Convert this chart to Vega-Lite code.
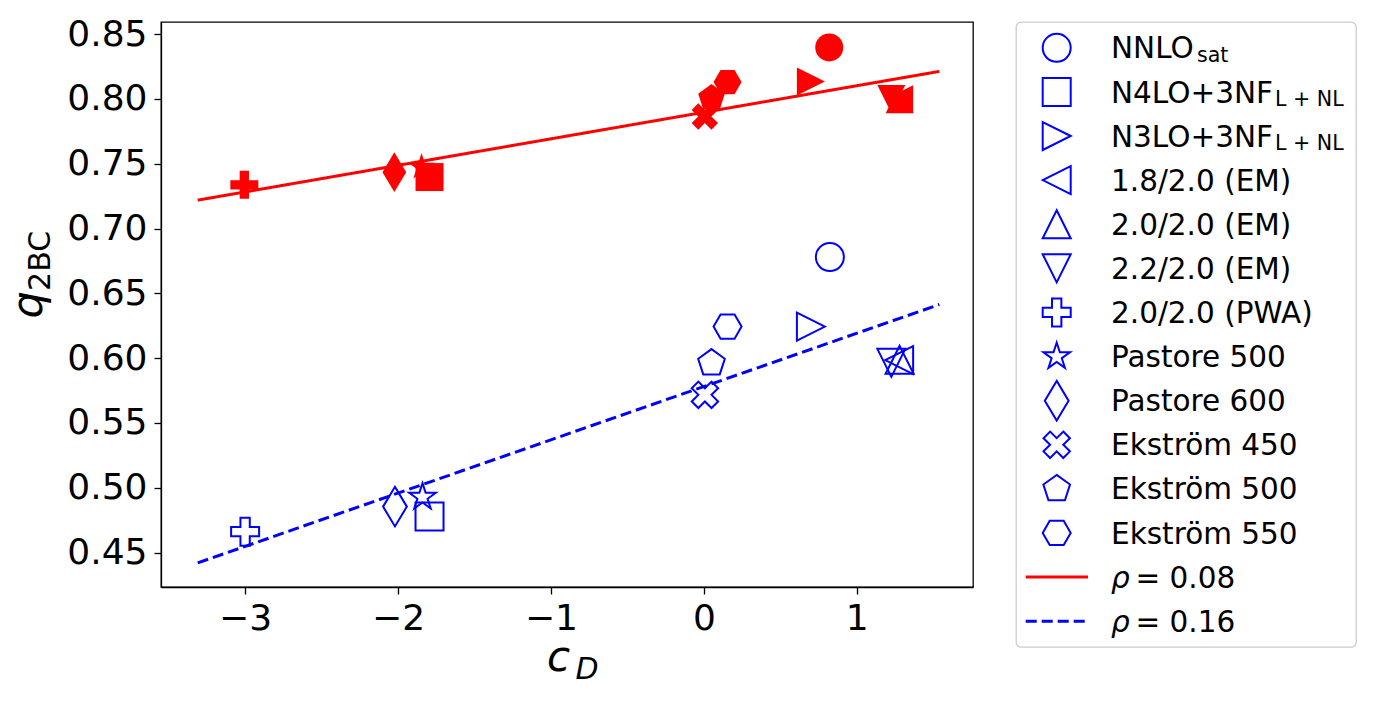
{
  "$schema": "https://vega.github.io/schema/vega-lite/v6.json",
  "background": "white",
  "padding": {"left": 7, "top": 15, "right": 0, "bottom": 0},
  "spacing": 41,
  "config": {
    "font": "DejaVu Sans",
    "axis": {"grid": false, "domainColor": "black", "domainWidth": 1.3, "tickColor": "black", "tickWidth": 1.3, "tickSize": 7, "labelFont": "DejaVu Sans", "labelFontSize": 36, "labelColor": "black", "labelPadding": 7}
  },
  "datasets": {
    "points": [
      {"model": "NNLOsat", "group": "ρ = 0.08", "cD": 0.82, "q": 0.8397},
      {"model": "N4LO+3NF", "group": "ρ = 0.08", "cD": -1.794, "q": 0.7397},
      {"model": "N3LO+3NF", "group": "ρ = 0.08", "cD": 0.70, "q": 0.8134},
      {"model": "1.8/2.0 (EM)", "group": "ρ = 0.08", "cD": 1.277, "q": 0.7997},
      {"model": "2.0/2.0 (EM)", "group": "ρ = 0.08", "cD": 1.28, "q": 0.7997},
      {"model": "2.2/2.0 (EM)", "group": "ρ = 0.08", "cD": 1.226, "q": 0.800},
      {"model": "2.0/2.0 (PWA)", "group": "ρ = 0.08", "cD": -3.005, "q": 0.7337},
      {"model": "Pastore 500", "group": "ρ = 0.08", "cD": -1.846, "q": 0.7474},
      {"model": "Pastore 600", "group": "ρ = 0.08", "cD": -2.024, "q": 0.7435},
      {"model": "Ekström 450", "group": "ρ = 0.08", "cD": 0.0065, "q": 0.7864},
      {"model": "Ekström 500", "group": "ρ = 0.08", "cD": 0.05, "q": 0.8006},
      {"model": "Ekström 550", "group": "ρ = 0.08", "cD": 0.155, "q": 0.813},
      {"model": "NNLOsat", "group": "ρ = 0.16", "cD": 0.824, "q": 0.678},
      {"model": "N4LO+3NF", "group": "ρ = 0.16", "cD": -1.794, "q": 0.4778},
      {"model": "N3LO+3NF", "group": "ρ = 0.16", "cD": 0.70, "q": 0.6244},
      {"model": "1.8/2.0 (EM)", "group": "ρ = 0.16", "cD": 1.277, "q": 0.5985},
      {"model": "2.0/2.0 (EM)", "group": "ρ = 0.16", "cD": 1.28, "q": 0.5987},
      {"model": "2.2/2.0 (EM)", "group": "ρ = 0.16", "cD": 1.226, "q": 0.5964},
      {"model": "2.0/2.0 (PWA)", "group": "ρ = 0.16", "cD": -3.0, "q": 0.4662},
      {"model": "Pastore 500", "group": "ρ = 0.16", "cD": -1.84, "q": 0.4928},
      {"model": "Pastore 600", "group": "ρ = 0.16", "cD": -2.02, "q": 0.4855},
      {"model": "Ekström 450", "group": "ρ = 0.16", "cD": 0.007, "q": 0.5717},
      {"model": "Ekström 500", "group": "ρ = 0.16", "cD": 0.05, "q": 0.5962},
      {"model": "Ekström 550", "group": "ρ = 0.16", "cD": 0.155, "q": 0.6244}
    ],
    "fits": [
      {"group": "ρ = 0.08", "cD": -3.31, "q": 0.7219},
      {"group": "ρ = 0.08", "cD": 1.54, "q": 0.8212},
      {"group": "ρ = 0.16", "cD": -3.31, "q": 0.4421},
      {"group": "ρ = 0.16", "cD": 1.54, "q": 0.6414}
    ],
    "titles": [
      {"axis": "x", "main": "c", "sub": "D"},
      {"axis": "y", "main": "q", "sub": "2BC"}
    ],
    "legend": [
      {"key": "NNLOsat", "model": "NNLOsat", "group": "ρ = 0.16", "kind": "marker", "label": "NNLO", "sub": "sat"},
      {"key": "N4LO+3NF", "model": "N4LO+3NF", "group": "ρ = 0.16", "kind": "marker", "label": "N4LO+3NF", "sub": "L + NL"},
      {"key": "N3LO+3NF", "model": "N3LO+3NF", "group": "ρ = 0.16", "kind": "marker", "label": "N3LO+3NF", "sub": "L + NL"},
      {"key": "1.8/2.0 (EM)", "model": "1.8/2.0 (EM)", "group": "ρ = 0.16", "kind": "marker", "label": "1.8/2.0 (EM)", "sub": ""},
      {"key": "2.0/2.0 (EM)", "model": "2.0/2.0 (EM)", "group": "ρ = 0.16", "kind": "marker", "label": "2.0/2.0 (EM)", "sub": ""},
      {"key": "2.2/2.0 (EM)", "model": "2.2/2.0 (EM)", "group": "ρ = 0.16", "kind": "marker", "label": "2.2/2.0 (EM)", "sub": ""},
      {"key": "2.0/2.0 (PWA)", "model": "2.0/2.0 (PWA)", "group": "ρ = 0.16", "kind": "marker", "label": "2.0/2.0 (PWA)", "sub": ""},
      {"key": "Pastore 500", "model": "Pastore 500", "group": "ρ = 0.16", "kind": "marker", "label": "Pastore 500", "sub": ""},
      {"key": "Pastore 600", "model": "Pastore 600", "group": "ρ = 0.16", "kind": "marker", "label": "Pastore 600", "sub": ""},
      {"key": "Ekström 450", "model": "Ekström 450", "group": "ρ = 0.16", "kind": "marker", "label": "Ekström 450", "sub": ""},
      {"key": "Ekström 500", "model": "Ekström 500", "group": "ρ = 0.16", "kind": "marker", "label": "Ekström 500", "sub": ""},
      {"key": "Ekström 550", "model": "Ekström 550", "group": "ρ = 0.16", "kind": "marker", "label": "Ekström 550", "sub": ""},
      {"key": "ρ = 0.08", "group": "ρ = 0.08", "kind": "line", "symbol": "ρ", "label": "= 0.08", "sub": ""},
      {"key": "ρ = 0.16", "group": "ρ = 0.16", "kind": "line", "symbol": "ρ", "label": "= 0.16", "sub": ""}
    ]
  },
  "resolve": {"scale": {"shape": "shared", "color": "shared", "strokeDash": "shared"}},
  "hconcat": [
    {
      "width": 812,
      "height": 565,
      "view": {"stroke": "black", "strokeWidth": 1.3},
      "layer": [
        {
          "data": {"name": "points"},
          "transform": [{"filter": "datum.group === 'ρ = 0.08'"}],
          "mark": {"type": "point", "filled": true, "size": 784, "opacity": 1, "strokeWidth": 0},
          "encoding": {
            "x": {"field": "cD", "type": "quantitative", "title": null, "scale": {"domain": [-3.55, 1.76], "nice": false, "zero": false}, "axis": {"values": [-3, -2, -1, 0, 1], "format": "d", "title": null}},
            "y": {"field": "q", "type": "quantitative", "title": null, "scale": {"domain": [0.4235, 0.8593], "nice": false, "zero": false}, "axis": {"values": [0.45, 0.5, 0.55, 0.6, 0.65, 0.7, 0.75, 0.8, 0.85], "format": ".2f", "title": null}},
            "shape": {"field": "model", "type": "nominal", "legend": null,
              "scale": {
                "domain": ["NNLOsat", "N4LO+3NF", "N3LO+3NF", "1.8/2.0 (EM)", "2.0/2.0 (EM)", "2.2/2.0 (EM)", "2.0/2.0 (PWA)", "Pastore 500", "Pastore 600", "Ekström 450", "Ekström 500", "Ekström 550"],
                "range": [
                  "circle",
                  "square",
                  "M1,0L-1,-1L-1,1Z",
                  "M-1,0L1,-1L1,1Z",
                  "M0,-1L1,1L-1,1Z",
                  "M0,1L1,-1L-1,-1Z",
                  "M-0.333,-1L0.333,-1L0.333,-0.333L1,-0.333L1,0.333L0.333,0.333L0.333,1L-0.333,1L-0.333,0.333L-1,0.333L-1,-0.333L-0.333,-0.333Z",
                  "M0,-1L0.2245,-0.309L0.9511,-0.309L0.3633,0.118L0.5878,0.809L0,0.382L-0.5878,0.809L-0.3633,0.118L-0.9511,-0.309L-0.2245,-0.309Z",
                  "M0,-1.414L0.849,0L0,1.414L-0.849,0Z",
                  "M0.471,-0.943L0.943,-0.471L0.471,0L0.943,0.471L0.471,0.943L0,0.471L-0.471,0.943L-0.943,0.471L-0.471,0L-0.943,-0.471L-0.471,-0.943L0,-0.471Z",
                  "M0,-1L0.9511,-0.309L0.5878,0.809L-0.5878,0.809L-0.9511,-0.309Z",
                  "M1,0L0.5,0.866L-0.5,0.866L-1,0L-0.5,-0.866L0.5,-0.866Z"
                ]
              }
            },
            "color": {"field": "group", "type": "nominal", "legend": null, "scale": {"domain": ["ρ = 0.08", "ρ = 0.16"], "range": ["#ff0000", "#0000ff"]}}
          }
        },
        {
          "data": {"name": "points"},
          "transform": [{"filter": "datum.group === 'ρ = 0.16'"}],
          "mark": {"type": "point", "filled": false, "size": 784, "opacity": 1, "strokeWidth": 2},
          "encoding": {
            "x": {"field": "cD", "type": "quantitative", "title": null},
            "y": {"field": "q", "type": "quantitative", "title": null},
            "shape": {"field": "model", "type": "nominal", "legend": null},
            "color": {"field": "group", "type": "nominal", "legend": null}
          }
        },
        {
          "data": {"name": "fits"},
          "mark": {"type": "line", "strokeWidth": 3},
          "encoding": {
            "x": {"field": "cD", "type": "quantitative", "title": null},
            "y": {"field": "q", "type": "quantitative", "title": null},
            "color": {"field": "group", "type": "nominal", "legend": null},
            "strokeDash": {"field": "group", "type": "nominal", "legend": null, "scale": {"domain": ["ρ = 0.08", "ρ = 0.16"], "range": [[1, 0], [11, 5]]}}
          }
        },
        {
          "data": {"name": "titles"},
          "transform": [{"filter": "datum.axis === 'x'"}],
          "mark": {"type": "text", "fontSize": 42, "fontStyle": "italic", "align": "center", "baseline": "alphabetic", "color": "black"},
          "encoding": {
            "x": {"datum": -0.95, "type": "quantitative"},
            "y": {"datum": 0.3585, "type": "quantitative"},
            "text": {"field": "main"}
          }
        },
        {
          "data": {"name": "titles"},
          "transform": [{"filter": "datum.axis === 'x'"}],
          "mark": {"type": "text", "fontSize": 30, "fontStyle": "italic", "align": "left", "baseline": "alphabetic", "dx": 17, "dy": 8, "color": "black"},
          "encoding": {
            "x": {"datum": -0.95, "type": "quantitative"},
            "y": {"datum": 0.3585, "type": "quantitative"},
            "text": {"field": "sub"}
          }
        },
        {
          "data": {"name": "titles"},
          "transform": [{"filter": "datum.axis === 'y'"}],
          "mark": {"type": "text", "fontSize": 43, "fontStyle": "italic", "align": "center", "baseline": "alphabetic", "angle": 270, "color": "black"},
          "encoding": {
            "x": {"datum": -4.33, "type": "quantitative"},
            "y": {"datum": 0.6411, "type": "quantitative"},
            "text": {"field": "main"}
          }
        },
        {
          "data": {"name": "titles"},
          "transform": [{"filter": "datum.axis === 'y'"}],
          "mark": {"type": "text", "fontSize": 30, "align": "left", "baseline": "alphabetic", "angle": 270, "dx": 14, "dy": 8, "color": "black"},
          "encoding": {
            "x": {"datum": -4.33, "type": "quantitative"},
            "y": {"datum": 0.6411, "type": "quantitative"},
            "text": {"field": "sub"}
          }
        }
      ]
    },
    {
      "width": 340,
      "height": 625,
      "view": {"stroke": "#cccccc", "strokeWidth": 1.3, "cornerRadius": 5},
      "data": {"name": "legend"},
      "encoding": {
        "y": {"field": "key", "type": "nominal", "sort": null, "axis": null, "title": null, "scale": {"type": "point", "padding": 0.585}}
      },
      "layer": [
        {
          "transform": [{"filter": "datum.kind === 'marker'"}],
          "mark": {"type": "point", "filled": false, "size": 784, "opacity": 1, "strokeWidth": 2},
          "encoding": {
            "x": {"datum": 40.7, "type": "quantitative", "axis": null, "scale": {"domain": [0, 340], "nice": false, "zero": true}},
            "shape": {"field": "model", "type": "nominal", "legend": null},
            "color": {"field": "group", "type": "nominal", "legend": null}
          }
        },
        {
          "transform": [{"filter": "datum.kind === 'line'"}],
          "mark": {"type": "rule", "strokeWidth": 3},
          "encoding": {
            "x": {"datum": 9.7, "type": "quantitative"},
            "x2": {"datum": 72},
            "color": {"field": "group", "type": "nominal", "legend": null},
            "strokeDash": {"field": "group", "type": "nominal", "legend": null}
          }
        },
        {
          "transform": [{"filter": "datum.kind === 'marker'"}],
          "mark": {"type": "text", "fontSize": 29.5, "align": "left", "baseline": "alphabetic", "dy": 10.6, "color": "black"},
          "encoding": {
            "x": {"datum": 95, "type": "quantitative"},
            "text": {"field": "label"}
          }
        },
        {
          "transform": [{"filter": "datum.sub === 'sat'"}],
          "mark": {"type": "text", "fontSize": 20.6, "align": "left", "baseline": "alphabetic", "dy": 14.3, "dx": 86, "color": "black"},
          "encoding": {
            "x": {"datum": 95, "type": "quantitative"},
            "text": {"field": "sub"}
          }
        },
        {
          "transform": [{"filter": "datum.sub === 'L + NL'"}],
          "mark": {"type": "text", "fontSize": 20.6, "align": "left", "baseline": "alphabetic", "dy": 14.3, "dx": 164, "color": "black"},
          "encoding": {
            "x": {"datum": 95, "type": "quantitative"},
            "text": {"field": "sub"}
          }
        },
        {
          "transform": [{"filter": "datum.kind === 'line'"}],
          "mark": {"type": "text", "fontSize": 29.5, "fontStyle": "italic", "align": "left", "baseline": "alphabetic", "dy": 10.6, "color": "black"},
          "encoding": {
            "x": {"datum": 95, "type": "quantitative"},
            "text": {"field": "symbol"}
          }
        },
        {
          "transform": [{"filter": "datum.kind === 'line'"}],
          "mark": {"type": "text", "fontSize": 29.5, "align": "left", "baseline": "alphabetic", "dy": 10.6, "color": "black"},
          "encoding": {
            "x": {"datum": 119.5, "type": "quantitative"},
            "text": {"field": "label"}
          }
        }
      ]
    }
  ]
}
